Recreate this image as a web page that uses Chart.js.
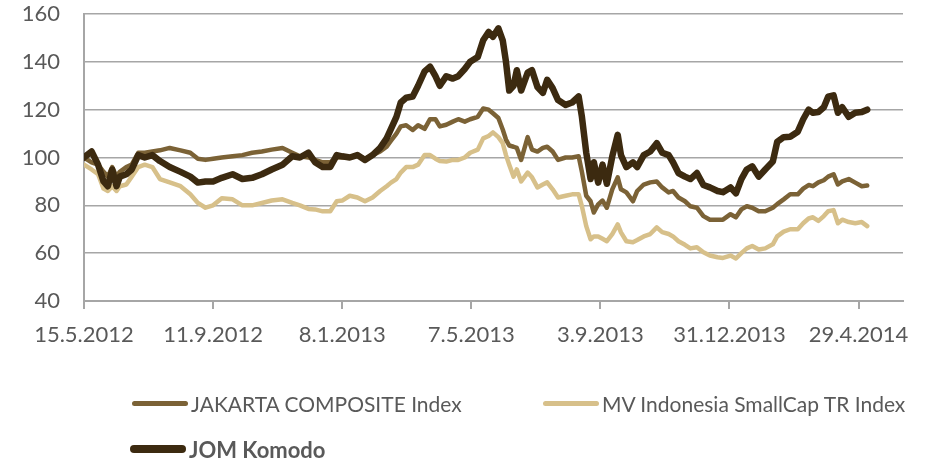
<!DOCTYPE html>
<html>
<head>
<meta charset="utf-8">
<script src="https://cdn.jsdelivr.net/npm/chart.js@4"></script>
<style>
    body { margin: 0; background: #fff; }
    .wrap { position: relative; width: 935px; height: 461px; }
    .chart { display: block; }
    .legend-item { position: absolute; display: flex; align-items: center; font-family: Lato, sans-serif; font-size: 21px; color: #595959; white-space: nowrap; }
    .legend-item span.mark { display: inline-block; width: 56px; border-radius: 4px; margin-right: 3px; }
</style>
</head>
<body>
<div class="wrap">
    <canvas class="chart" width="935" height="461"></canvas>
</div>
<script>
// days counted from 15.5.2012
const days = [0, 7, 13, 18, 22, 26, 30, 33, 39, 44, 50, 56, 63, 70, 79, 89, 98, 105, 112, 119,
    127, 137, 146, 155, 164, 173, 183, 192, 199, 207, 213, 220, 227, 233, 238, 245, 252, 259, 266, 273,
    279, 283, 288, 292, 297, 303, 308, 314, 319, 324, 328, 334, 340, 345, 351, 356, 363, 368, 373, 377,
    382, 386, 389, 392, 396, 399, 403, 409, 413, 418, 423, 427, 432, 437, 444, 450, 456, 459, 463, 467,
    470, 474, 478, 482, 487, 492, 495, 500, 506, 510, 516, 522, 528, 533, 539, 543, 548, 554, 559, 565,
    571, 577, 584, 589, 596, 601, 606, 611, 616, 622, 628, 635, 639, 645, 651, 658, 663, 668, 672, 677,
    682, 686, 691, 695, 699, 705, 711, 717, 722];
const jakarta = [100, 98, 97, 94, 92, 96, 92, 94, 96, 97, 102, 102, 102.5, 103, 104, 103, 102, 99.5, 99, 99.5,
    100, 100.5, 101, 102, 102.5, 103.3, 104, 102, 100.5, 100, 99, 98, 98, 100, 100, 100, 101, 99.5, 101, 102.5,
    104.5, 107, 110, 113, 113.5, 111.5, 113.5, 112, 116, 116, 113, 113.7, 115, 116, 115, 116, 117, 120.5, 120, 118.5,
    116.5, 111.7, 107.5, 105, 104.5, 104, 99, 108.5, 103.3, 102.5, 104, 104.5, 102.5, 99, 100, 100, 100.5, 94, 84, 81.7,
    77, 80.4, 82, 79, 86.7, 91.7, 86.7, 85.4, 81.7, 86, 88.7, 89.6, 90, 87.5, 85.4, 86, 83.3, 81.7, 79.6, 79,
    75.5, 74, 74, 74, 76.3, 75, 78.3, 79.6, 79, 77.5, 77.5, 79, 80.5, 82.5, 84.6, 84.6, 87, 88.5, 88, 89.6,
    90.5, 92, 93, 88.7, 90, 91, 89.5, 88, 88.3];
const smallcap = [97, 95, 93, 87, 86, 88, 86, 88, 88.7, 92, 96, 97, 96, 91, 89.6, 88, 84.6, 81, 79, 80,
    83, 82.5, 80, 80, 81, 82, 82.5, 81, 80, 78.5, 78.3, 77.5, 77.5, 81.7, 82, 84, 83.3, 81.7, 83.3, 86,
    88, 89.5, 91, 93.7, 96, 96, 97, 101, 101, 99.5, 98.5, 98.3, 99, 99, 100, 102, 103.3, 108, 109, 110.5,
    108.5, 106, 101, 97, 92, 95, 90, 93.7, 91.7, 87.5, 88.7, 89.6, 86.7, 83.3, 84, 84.6, 84.6, 79.6, 71.3, 65.8,
    67, 67, 66, 65, 68, 72, 68.7, 65, 64.6, 65.5, 67, 68, 70.8, 68.8, 68, 67, 65, 63.5, 62, 62.5,
    60.4, 59, 58.3, 58, 59, 57.8, 60, 62, 63, 61.5, 62, 63.7, 67, 69, 70, 70, 72.5, 74.5, 75, 73.5,
    75.5, 77.5, 78, 72.5, 74, 73, 72.5, 73, 71.3];
const komodo = [100, 102.5, 97, 90, 88, 95, 88, 92, 93, 95, 101, 100, 101, 98.5, 96, 94, 92, 89.5, 90, 90,
    91.5, 93, 91, 91.5, 93, 95, 97, 100.5, 100, 102, 98, 96, 96, 101, 100.5, 100, 101, 99, 101, 104,
    108, 112, 117, 123, 125, 125.5, 130, 136, 138, 134, 130, 134, 133, 134, 137, 140, 142, 149, 152.5, 150.5,
    154, 149, 140, 128, 130, 136.5, 128, 135.5, 136.5, 129.5, 127, 132.5, 129, 124, 122, 123, 125.5, 117, 102, 91,
    98, 89.5, 97, 89, 100.5, 109.5, 101, 96, 98, 96, 101, 102.5, 106, 102, 101, 98, 93.5, 92, 91, 93.5,
    88.5, 87.5, 86, 85.5, 87.5, 85, 91, 95, 96.3, 92, 95, 98.3, 106.5, 108.5, 108.7, 110.8, 116, 120, 118.7, 119,
    121, 125.4, 126, 118.7, 121, 117, 118.7, 119, 120];
const tickLabels = ['15.5.2012', '11.9.2012', '8.1.2013', '7.5.2013', '3.9.2013', '31.12.2013', '29.4.2014'];
const tickStep = 119;

const seriesNames = ['JAKARTA COMPOSITE Index', 'MV Indonesia SmallCap TR Index', 'JOM Komodo'];
const seriesColors = ['#7b6236', '#d7c08a', '#3c2a10'];

const toPoints = arr => arr.map((v, i) => ({ x: days[i], y: v }));
const fontFam = 'Lato, sans-serif';

//------the chart------//
const ctx = document.querySelector('.chart').getContext('2d');
const myChart = new Chart(ctx, {
    type: 'line',
    data: {
        datasets: [{
            label: seriesNames[0],
            data: toPoints(jakarta),
            borderColor: seriesColors[0],
            borderWidth: 4.5,
            order: 1
        }, {
            label: seriesNames[1],
            data: toPoints(smallcap),
            borderColor: seriesColors[1],
            borderWidth: 4.5,
            order: 2
        }, {
            label: seriesNames[2],
            data: toPoints(komodo),
            borderColor: seriesColors[2],
            borderWidth: 6.5,
            order: 0
        }]
    },
    options: {
        responsive: false,
        animation: false,
        layout: { padding: { top: 14, right: 32, left: 0, bottom: 0 } },
        elements: {
            point: { radius: 0 },
            line: { tension: 0, borderJoinStyle: 'round', borderCapStyle: 'round', fill: false }
        },
        plugins: { legend: { display: false }, tooltip: { enabled: false } },
        scales: {
            x: {
                type: 'linear',
                min: 0,
                max: 755,
                offset: false,
                border: { color: '#a6a6a6', width: 2 },
                grid: { drawOnChartArea: false, drawTicks: true, tickLength: 8, color: '#a6a6a6', lineWidth: 2 },
                ticks: {
                    stepSize: tickStep,
                    includeBounds: false,
                    autoSkip: false,
                    maxRotation: 0,
                    padding: 13,
                    color: '#595959',
                    font: { family: fontFam, size: 22 },
                    callback: v => tickLabels[Math.round(v / tickStep)]
                },
                afterFit: s => { s.height = 160; s.paddingTop = 0; s.paddingBottom = 0 }
            },
            y: {
                min: 40,
                max: 160,
                border: { color: '#a6a6a6', width: 2 },
                grid: { color: '#a6a6a6', lineWidth: 1.5, drawTicks: false },
                ticks: {
                    stepSize: 20,
                    padding: 24,
                    color: '#595959',
                    font: { family: fontFam, size: 22 }
                },
                afterFit: s => { s.width = 84; s.paddingTop = 0; s.paddingBottom = 0 }
            }
        }
    }
});

//------html legend in two columns------//
const legendPos = [
    { left: 132, top: 403, h: 5, bold: false },
    { left: 543, top: 403, h: 5, bold: false },
    { left: 130, top: 449, h: 8, bold: true }
];
const wrap = document.querySelector('.wrap');
seriesNames.forEach((name, i) => {
    const p = legendPos[i];
    const item = document.createElement('div');
    item.className = 'legend-item';
    item.style.left = p.left + 'px';
    item.style.top = (p.top - 15) + 'px';
    item.style.height = '30px';
    if (p.bold) { item.style.fontWeight = 'bold'; item.style.fontSize = '22px'; }
    item.innerHTML = `<span class="mark" style="height:${p.h}px;background:${seriesColors[i]}"></span>${name}`;
    wrap.appendChild(item);
});
</script>
</body>
</html>
